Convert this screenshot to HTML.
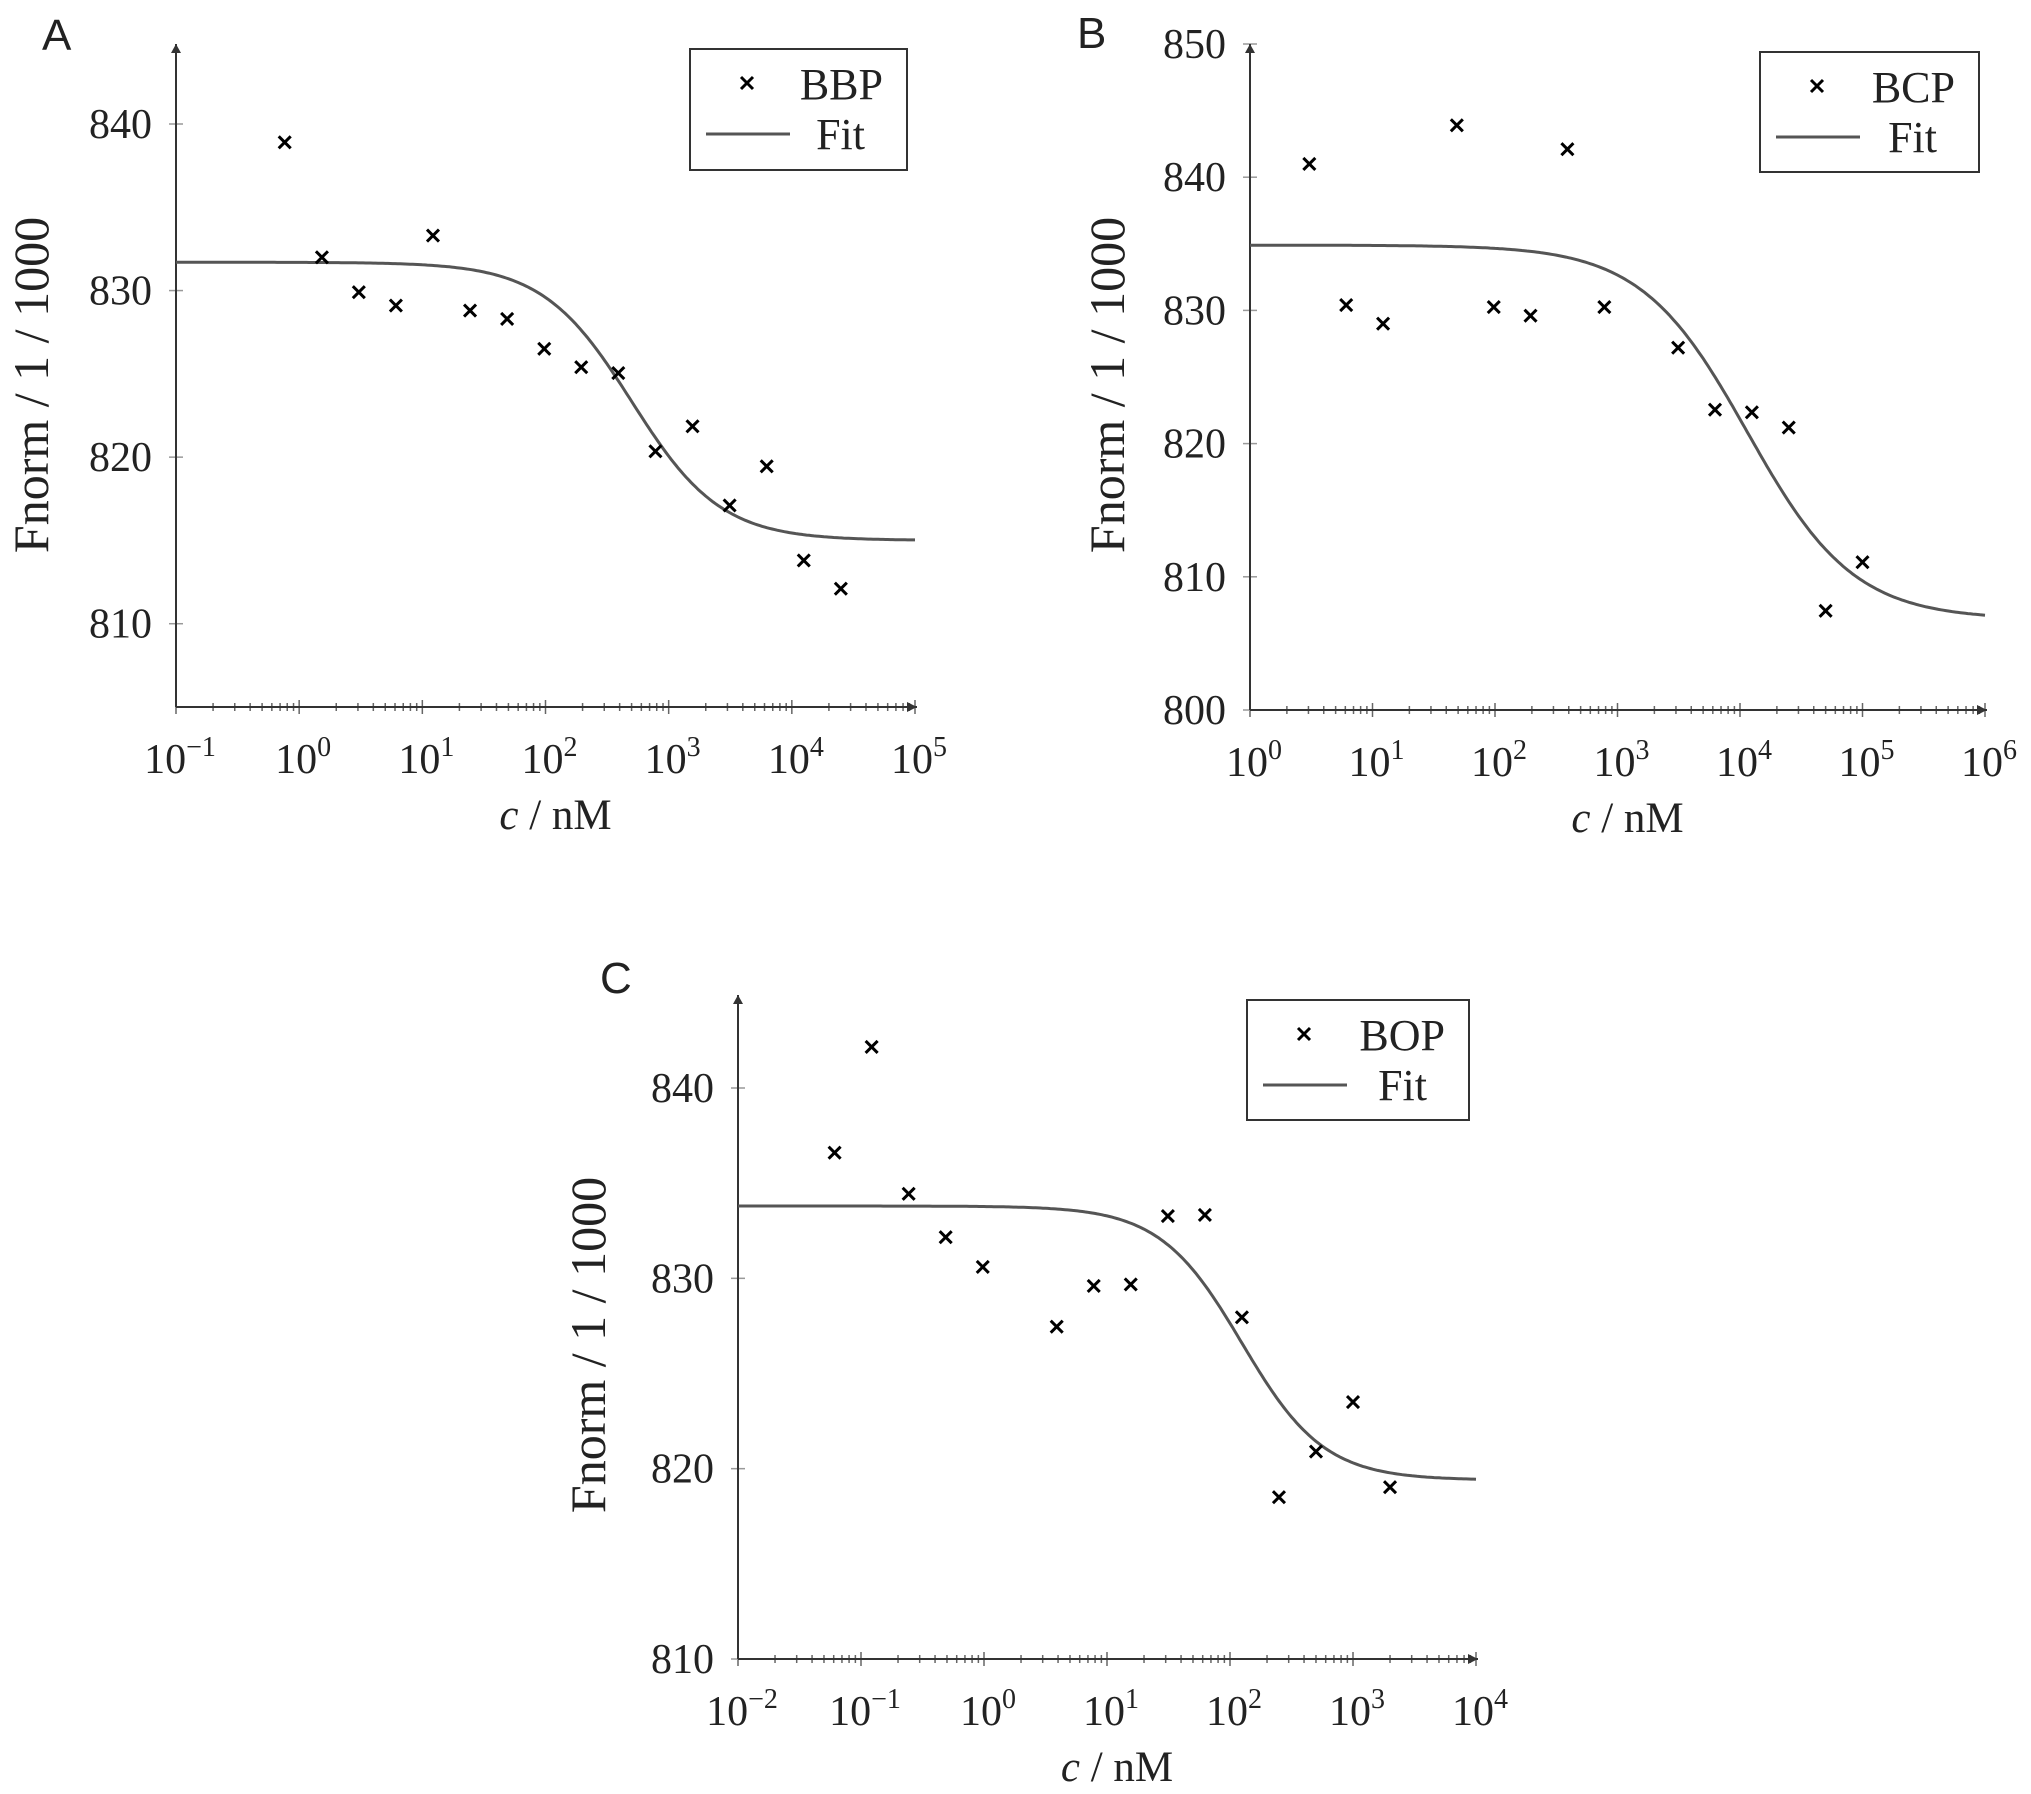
<!DOCTYPE html>
<html><head><meta charset="utf-8"><style>
body{margin:0;background:#fff}
svg{display:block}
text{font-family:"Liberation Serif",serif;fill:#222}
</style></head><body>
<svg id="chart" width="2031" height="1794" viewBox="0 0 2031 1794" xmlns="http://www.w3.org/2000/svg"></svg>
<script>
// Panel A (BBP)
const aConc = [0.763,1.53,3.05,6.1,12.2,24.4,48.8,97.7,195,390,781,1562,3125,6250,12500,25000];
const aFnorm = [838.9,832.0,829.9,829.1,833.3,828.8,828.3,826.5,825.4,825.05,820.35,821.85,817.1,819.45,813.8,812.1];
const aFit = [831.7,815.0,500,1.2]; // top, bottom, EC50, hill
const aYTicks = [810,820,830,840];
const aXTicks = [-1,0,1,2,3,4,5];
// Panel B (BCP)
const bConc = [3.05,6.1,12.2,48.8,97.7,195,390,781,3125,6250,12500,25000,50000,100000];
const bFnorm = [841.0,830.4,829.0,843.9,830.25,829.6,842.1,830.25,827.2,822.55,822.35,821.2,807.45,811.1];
const bFit = [834.9,806.8,11500,1.0];
const bYTicks = [800,810,820,830,840,850];
const bXTicks = [0,1,2,3,4,5,6];
// Panel C (BOP)
const cConc = [0.061,0.122,0.244,0.488,0.977,3.9,7.8,15.6,31.25,62.5,125,250,500,1000,2000];
const cFnorm = [836.6,842.16,834.44,832.16,830.6,827.46,829.6,829.68,833.27,833.33,827.95,818.5,820.9,823.5,819.03];
const cFit = [833.8,819.4,125,1.3];
const cYTicks = [810,820,830,840];
const cXTicks = [-2,-1,0,1,2,3,4];

const NS="http://www.w3.org/2000/svg";
const svg=document.getElementById('chart');
function mk(tag,attrs,parent){const e=document.createElementNS(NS,tag);for(const k in attrs)e.setAttribute(k,attrs[k]);(parent||svg).appendChild(e);return e;}

function panel(p){
  const g=mk('g',{});
  
  
  const sx=v=>p.x0+(Math.log10(v)-p.lx0)/(p.lx1-p.lx0)*(p.x1-p.x0);
  const sy=v=>p.yBot-(v-p.vBot)/(p.vTop-p.vBot)*(p.yBot-p.yTopTick);
  const L=mk('text',{x:p.lx,y:p.ly,'font-size':44,style:'font-family:"Liberation Sans",sans-serif'},g);L.textContent=p.letter;
  
  
  const xt=mk('g',{stroke:'#666','stroke-width':1.5},g);
  
  
  for(let d=p.lx0;d<p.lx1;d++){for(let m=2;m<=9;m++){const x=sx(m*Math.pow(10,d));mk('line',{x1:x,x2:x,y1:p.yBot-4,y2:p.yBot+4},xt);}}
  p.xTicks.forEach(d=>{const x=sx(Math.pow(10,d));mk('line',{x1:x,x2:x,y1:p.yBot-7,y2:p.yBot+7},xt);
    const t=mk('text',{x:x+4,y:p.yBot+66,'font-size':42,'text-anchor':'middle'},g);
    
    
    t.appendChild(document.createTextNode('10'));
    const s=mk('tspan',{dy:-17,'font-size':28},t);s.textContent=(d<0?'\u2212'+(-d):String(d));});
  p.yTicks.forEach(v=>{const y=sy(v);mk('line',{x1:p.x0-7,x2:p.x0+7,y1:y,y2:y,stroke:'#999','stroke-width':1.5},g);
    const t=mk('text',{x:p.x0-24,y:y+14,'font-size':42,'text-anchor':'end'},g);t.textContent=v;
    
    });
  const ax=mk('g',{stroke:'#333','stroke-width':2,fill:'none'},g);
  
  
  mk('line',{x1:p.x0,y1:p.yBot,x2:p.x0,y2:p.yArrow},ax);
  mk('line',{x1:p.x0,y1:p.yBot,x2:p.x1+2,y2:p.yBot},ax);
  mk('path',{d:`M${p.x0-5},${p.yArrow+9} L${p.x0},${p.yArrow} L${p.x0+5},${p.yArrow+9}`,fill:'#333',stroke:'none'},g);
  mk('path',{d:`M${p.x1-8},${p.yBot-5} L${p.x1+2},${p.yBot} L${p.x1-8},${p.yBot+5}`,fill:'#333',stroke:'none'},g);
  const yt=mk('text',{x:0,y:0,'font-size':50,'text-anchor':'middle',transform:`translate(${p.ytx},${p.yty}) rotate(-90)`},g);
  yt.textContent='Fnorm / 1 / 1000';
  
  
  const xtt=mk('text',{x:(p.x0+p.x1)/2+10,y:p.yBot+122,'font-size':43,'text-anchor':'middle'},g);
  
  
  const it=mk('tspan',{'font-style':'italic'},xtt);it.textContent='c';
  xtt.appendChild(document.createTextNode(' / nM'));
  const [top,bot,ec,n]=p.fit;let d='';
  for(let i=0;i<=300;i++){const lv=p.lx0+(p.lx1-p.lx0)*i/300;const c=Math.pow(10,lv);
    const v=bot+(top-bot)/(1+Math.pow(c/ec,n));d+=(i?'L':'M')+sx(c).toFixed(1)+','+sy(v).toFixed(1);}
  const fc=mk('path',{d:d,stroke:'#555','stroke-width':3,fill:'none'},g);
  
  
  p.conc.forEach((c,i)=>{const x=sx(c),y=sy(p.vals[i]);
    const m=mk('path',{d:`M${x-6},${y-6}L${x+6},${y+6}M${x-6},${y+6}L${x+6},${y-6}`,stroke:'#000','stroke-width':3},g);
    
    });
  const lg=mk('g',{},g);
  
  
  const [bx,by,bw,bh]=p.leg;
  mk('rect',{x:bx,y:by,width:bw,height:bh,fill:'#fff',stroke:'#333','stroke-width':2},lg);
  const mx=bx+57,my=by+34;
  mk('path',{d:`M${mx-6},${my-6}L${mx+6},${my+6}M${mx-6},${my+6}L${mx+6},${my-6}`,stroke:'#000','stroke-width':3},lg);
  const t1=mk('text',{x:bx+bw-24,y:by+50,'font-size':44,'text-anchor':'end'},lg);t1.textContent=p.name;
  mk('line',{x1:bx+16,x2:bx+100,y1:by+85,y2:by+85,stroke:'#555','stroke-width':3},lg);
  const t2=mk('text',{x:bx+bw-42,y:by+100,'font-size':44,'text-anchor':'end'},lg);t2.textContent='Fit';
}

panel({id:'a',letter:'A',lx:42,ly:50,x0:176,x1:915,lx0:-1,lx1:5,yBot:707,vBot:805,yTopTick:124,vTop:840,yArrow:44,
  yTicks:aYTicks,xTicks:aXTicks,conc:aConc,vals:aFnorm,fit:aFit,leg:[690,49,217,121],name:'BBP',ytx:48,yty:385});
panel({id:'b',letter:'B',lx:1077,ly:48,x0:1250,x1:1985,lx0:0,lx1:6,yBot:710,vBot:800,yTopTick:44,vTop:850,yArrow:44,
  yTicks:bYTicks,xTicks:bXTicks,conc:bConc,vals:bFnorm,fit:bFit,leg:[1760,52,219,120],name:'BCP',ytx:1124,yty:385});
panel({id:'c',letter:'C',lx:600,ly:993,x0:738,x1:1476,lx0:-2,lx1:4,yBot:1659,vBot:810,yTopTick:1088,vTop:840,yArrow:995,
  yTicks:cYTicks,xTicks:cXTicks,conc:cConc,vals:cFnorm,fit:cFit,leg:[1247,1000,222,120],name:'BOP',ytx:605,yty:1345});
</script>
</body></html>
